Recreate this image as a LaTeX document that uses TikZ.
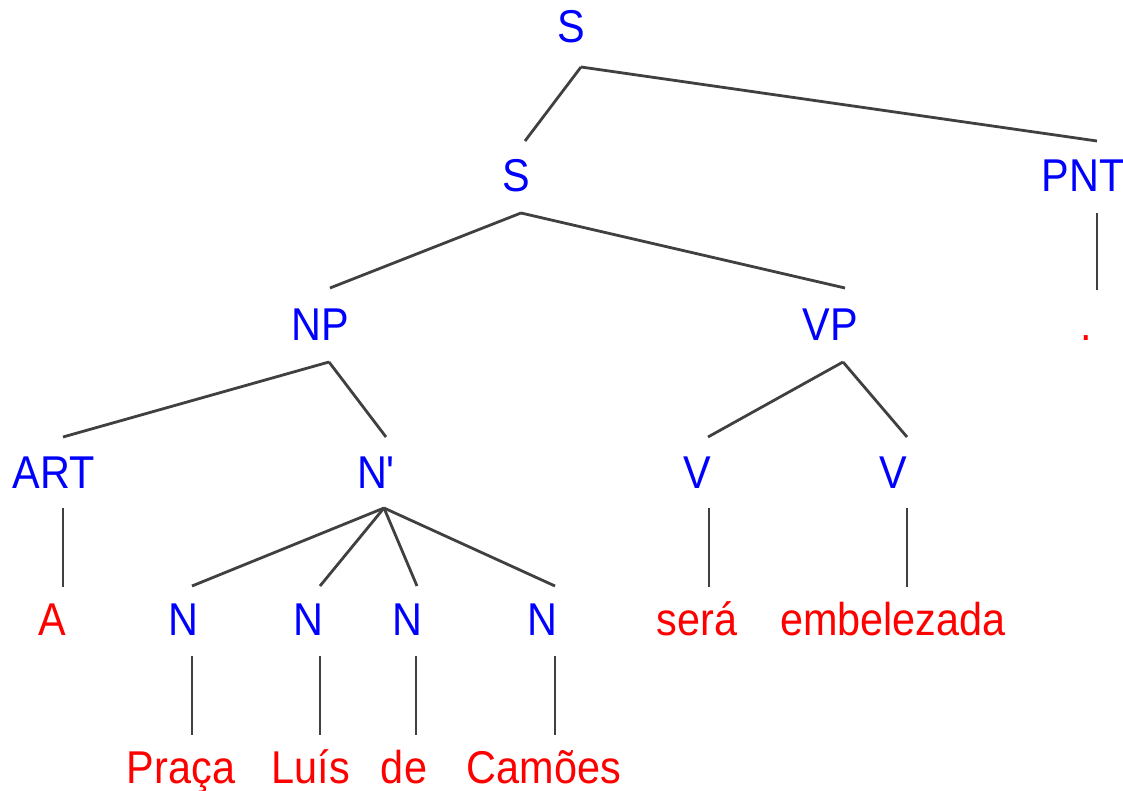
\documentclass[tikz,border=0pt]{standalone}
\usepackage{fontspec}
\setmainfont{Liberation Sans}[FakeStretch=0.9]
% same face without the TeX quote mapping, for a straight apostrophe
\newfontfamily\straightsans{Liberation Sans}[FakeStretch=0.9, Ligatures=ResetAll]
\definecolor{catblue}{RGB}{0,0,255}
\definecolor{wordred}{RGB}{255,0,0}
\definecolor{edgegray}{RGB}{64,64,64}
\begin{document}
\begin{tikzpicture}[x=1pt,y=-1pt,
  cat/.style={text=catblue, anchor=base, inner sep=0pt, font=\fontsize{46}{50}\selectfont},
  word/.style={text=wordred, anchor=base, inner sep=0pt, font=\fontsize{46}{50}\selectfont},
  edge/.style={draw=edgegray, line width=2.8pt}]
\useasboundingbox (0,0) rectangle (1123,791);

% category labels
\node[cat] (s0)  at (571,43)  {S};
\node[cat] (s1)  at (516,192) {S};
\node[cat] (pnt) at (1083,192) {PNT};
\node[cat] (np)  at (320,340) {NP};
\node[cat] (vp)  at (830,340) {VP};
\node[cat] (art) at (54,488)  {ART};
\node[cat] (nb)  at (376,488) {N{\straightsans '}};
\node[cat] (v1)  at (697,488) {V};
\node[cat] (v2)  at (893,488) {V};
\node[cat] (n1)  at (183,635) {N};
\node[cat] (n2)  at (308,635) {N};
\node[cat] (n3)  at (407,635) {N};
\node[cat] (n4)  at (542,635) {N};

% words
\node[word] (wdot) at (1086,340) {.};
\node[word] (wa)   at (52,635)   {A};
\node[word] (wser) at (697,635)  {será};
\node[word] (wemb) at (893,635)  {embelezada};
\node[word] (wpr)  at (181,783)  {Praça};
\node[word] (wlu)  at (311,783)  {Luís};
\node[word] (wde)  at (404,783)  {de};
\node[word] (wca)  at (544,783)  {Camões};

% attachment points below (b) and above (t) each label
\coordinate (s0-b)  at (581,67);
\coordinate (s1-t)  at (525,141);
\coordinate (s1-b)  at (521,213);
\coordinate (pnt-t) at (1097,141);
\coordinate (pnt-b) at (1097,213);
\coordinate (wdot-t) at (1097,290);
\coordinate (np-t)  at (330,288);
\coordinate (np-b)  at (329,362);
\coordinate (vp-t)  at (845,288);
\coordinate (vp-b)  at (843,362);
\coordinate (art-t) at (63,437);
\coordinate (art-b) at (63,508);
\coordinate (wa-t)  at (63,587);
\coordinate (nb-t)  at (386,437);
\coordinate (nb-b)  at (384,508);
\coordinate (v1-t)  at (708,437);
\coordinate (v1-b)  at (709,508);
\coordinate (wser-t) at (709,587);
\coordinate (v2-t)  at (907,437);
\coordinate (v2-b)  at (907,508);
\coordinate (wemb-t) at (907,587);
\coordinate (n1-t) at (192,586);
\coordinate (n2-t) at (320,586);
\coordinate (n3-t) at (417,586);
\coordinate (n4-t) at (555,586);
\coordinate (n1-b) at (192,656);
\coordinate (n2-b) at (320,656);
\coordinate (n3-b) at (416,656);
\coordinate (n4-b) at (555,656);
\coordinate (wpr-t) at (192,735);
\coordinate (wlu-t) at (320,735);
\coordinate (wde-t) at (416,735);
\coordinate (wca-t) at (555,735);

% branches
\draw[edge] (s0-b) -- (s1-t);
\draw[edge] (s0-b) -- (pnt-t);
\draw[edge] (s1-b) -- (np-t);
\draw[edge] (s1-b) -- (vp-t);
\draw[edge] (pnt-b) -- (wdot-t);
\draw[edge] (np-b) -- (art-t);
\draw[edge] (np-b) -- (nb-t);
\draw[edge] (vp-b) -- (v1-t);
\draw[edge] (vp-b) -- (v2-t);
\draw[edge] (art-b) -- (wa-t);
\draw[edge] (v1-b) -- (wser-t);
\draw[edge] (v2-b) -- (wemb-t);
\draw[edge] (nb-b) -- (n1-t);
\draw[edge] (nb-b) -- (n2-t);
\draw[edge] (nb-b) -- (n3-t);
\draw[edge] (nb-b) -- (n4-t);
\draw[edge] (n1-b) -- (wpr-t);
\draw[edge] (n2-b) -- (wlu-t);
\draw[edge] (n3-b) -- (wde-t);
\draw[edge] (n4-b) -- (wca-t);
\end{tikzpicture}
\end{document}
